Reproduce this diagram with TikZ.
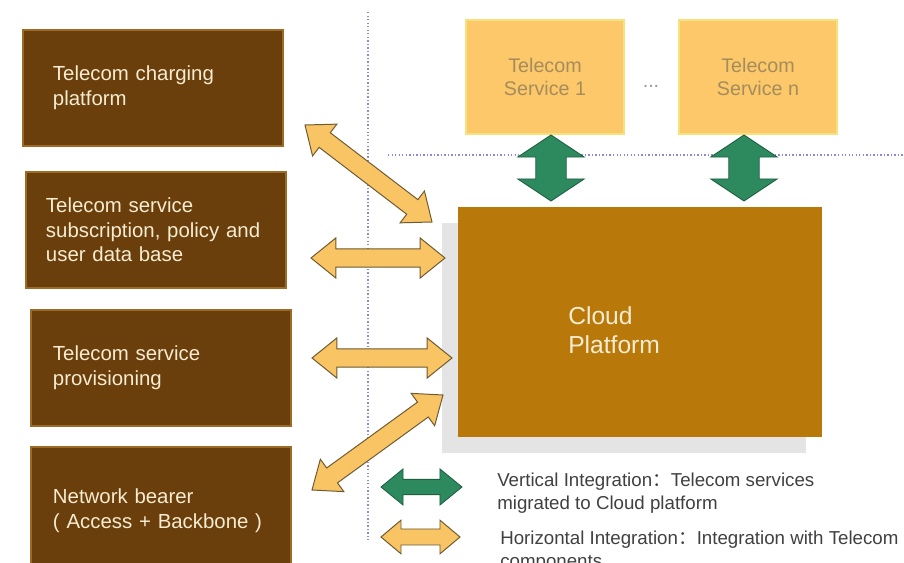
\documentclass[tikz,border=0pt]{standalone}
\usepackage{fontspec}
\setmainfont{Liberation Sans}
\newfontfamily\cjk{Noto Sans CJK SC}
\usetikzlibrary{calc,shadows}
\definecolor{boxbrown}{HTML}{6B3F0B}
\definecolor{bevel}{HTML}{9C6C26}
\definecolor{cloudbrown}{HTML}{B8790A}
\definecolor{svcfill}{HTML}{FCC86A}
\definecolor{svcedge}{HTML}{F4E27A}
\definecolor{svctext}{HTML}{A58C5C}
\definecolor{hfill}{HTML}{F8C464}
\definecolor{hedge}{HTML}{6E5A30}
\definecolor{vfill}{HTML}{2C8A5E}
\definecolor{vedge}{HTML}{1F5E40}
\definecolor{guide}{HTML}{8A8AD8}
\definecolor{cream}{HTML}{F6ECD2}
% block arrow: style, from, to, head length, head half width, shaft half width
\newcommand{\fatarrow}[6]{%
    \draw[#1] (#2)
        -- ($(#2)!#4!(#3)!#5!90:(#3)$)
        -- ($(#2)!#4!(#3)!#6!90:(#3)$)
        -- ($(#3)!#4!(#2)!#6!-90:(#2)$)
        -- ($(#3)!#4!(#2)!#5!-90:(#2)$)
        -- (#3)
        -- ($(#3)!#4!(#2)!#5!90:(#2)$)
        -- ($(#3)!#4!(#2)!#6!90:(#2)$)
        -- ($(#2)!#4!(#3)!#6!-90:(#3)$)
        -- ($(#2)!#4!(#3)!#5!-90:(#3)$)
        -- cycle;}
\begin{document}
\begin{tikzpicture}[x=0.025cm, y=-0.025cm,
    darkbox/.style={fill=boxbrown, draw=bevel, line width=1.5pt,
      minimum width=6.5cm, minimum height=2.9cm, text width=5.4cm,
      inner xsep=0.55cm, align=left, text=cream,
      font=\fontsize{14.5}{17.5}\selectfont},
    svcbox/.style={fill=svcfill, draw=svcedge, line width=1pt,
      minimum width=3.95cm, minimum height=2.85cm, align=center,
      text=svctext, font=\fontsize{14}{17}\selectfont},
    harrow/.style={fill=hfill, draw=hedge, line width=0.7pt},
    varrow/.style={fill=vfill, draw=vedge, line width=0.6pt},
    legend/.style={anchor=west, align=left, inner sep=0pt, text=black!75,
      font=\fontsize{13.3}{16.3}\selectfont},
    guide line/.style={draw=guide, line width=0.8pt,
      dash pattern=on 1pt off 1.5pt}]
    \useasboundingbox (0,0) rectangle (904,563);

    \coordinate (gv1) at (368,12);
    \coordinate (gv2) at (368,540);
    \coordinate (gh1) at (388,155);
    \coordinate (gh2) at (904,155);
    \draw[guide line] (gv1) -- (gv2);
    \draw[guide line] (gh1) -- (gh2);

    \node[darkbox, inner xsep=0.75cm, text width=5cm] (charging) at (153,88) {Telecom charging\\platform};
    \node[darkbox, inner xsep=0.5cm, text width=5.5cm] (subscr) at (156,230) {Telecom service\\subscription, policy and\\user data base};
    \node[darkbox] (prov) at (161,368) {Telecom service\\provisioning};
    \node[darkbox, minimum height=3.2cm] (bearer) at (161,511) {Network bearer\\( Access + Backbone )};

    \node[svcbox] (svc1) at (545,77) {Telecom\\Service 1};
    \node[svcbox] (svcn) at (758,77) {Telecom\\Service n};
    \node[text=gray!80, font=\fontsize{14}{17}\selectfont] (dots) at (651,86) {...};

    \node[fill=cloudbrown, minimum width=9.075cm, minimum height=5.75cm,
      drop shadow={shadow xshift=-0.4cm, shadow yshift=-0.4cm,
      fill=gray!60, opacity=0.35}] (cloud) at (640,322) {};
    \node[anchor=west, align=left, inner sep=0pt, text=cream,
      font=\fontsize{17.5}{21}\selectfont] (cloudtext) at (568,330) {Cloud\\Platform};

    \coordinate (h1a) at (305,125);
    \coordinate (h1b) at (432,222);
    \coordinate (h2a) at (311,258);
    \coordinate (h2b) at (445,258);
    \coordinate (h3a) at (312,358);
    \coordinate (h3b) at (452,358);
    \coordinate (h4a) at (312,490);
    \coordinate (h4b) at (443,395);
    \coordinate (v1a) at (551,135);
    \coordinate (v1b) at (551,201);
    \coordinate (v2a) at (744,135);
    \coordinate (v2b) at (744,201);
    \fatarrow{harrow}{h1a}{h1b}{0.62cm}{0.5cm}{0.23cm}
    \fatarrow{harrow}{h2a}{h2b}{0.62cm}{0.5cm}{0.23cm}
    \fatarrow{harrow}{h3a}{h3b}{0.62cm}{0.5cm}{0.23cm}
    \fatarrow{harrow}{h4a}{h4b}{0.62cm}{0.5cm}{0.23cm}
    \fatarrow{varrow}{v1a}{v1b}{0.55cm}{0.83cm}{0.38cm}
    \fatarrow{varrow}{v2a}{v2b}{0.55cm}{0.83cm}{0.38cm}

    \coordinate (lva) at (381,487);
    \coordinate (lvb) at (462,487);
    \coordinate (lha) at (381,537);
    \coordinate (lhb) at (460,537);
    \fatarrow{varrow}{lva}{lvb}{0.55cm}{0.45cm}{0.19cm}
    \fatarrow{harrow}{lha}{lhb}{0.5cm}{0.42cm}{0.2cm}
    \node[legend] (vlegend) at (497,493) {Vertical Integration{\cjk ：}Telecom services\\migrated to Cloud platform};
    \node[legend] (hlegend) at (500,551) {Horizontal Integration{\cjk ：}Integration with Telecom\\components};
\end{tikzpicture}
\end{document}
